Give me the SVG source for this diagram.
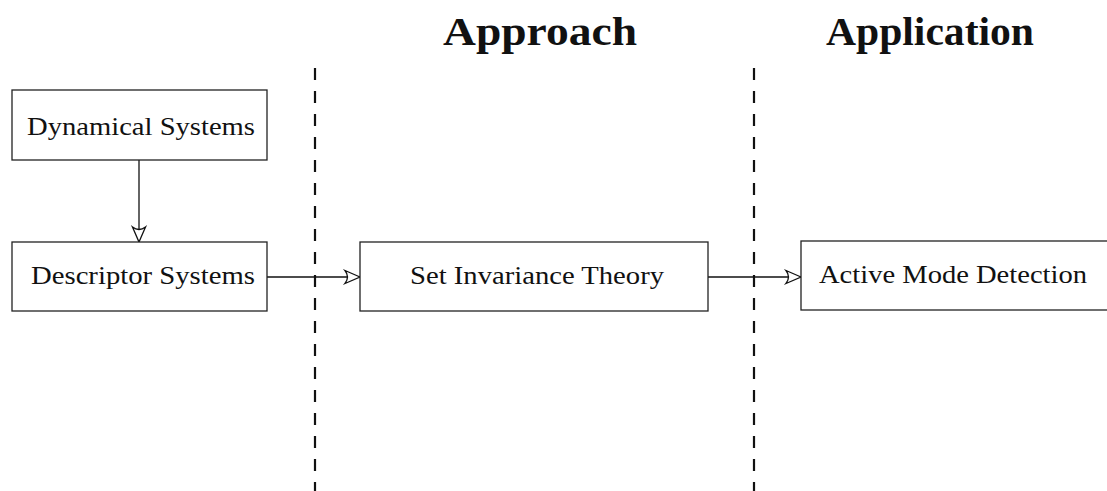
<svg xmlns="http://www.w3.org/2000/svg" width="1107" height="491" viewBox="0 0 1107 491">
  <style>
    .box { fill: #ffffff; stroke: #222222; stroke-width: 1.3; }
    .lbl { font-family: "Liberation Serif", "DejaVu Serif", serif; font-size: 25px; fill: #111111; }
    .title { font-family: "Liberation Serif", "DejaVu Serif", serif; font-size: 41px; font-weight: bold; fill: #111111; }
    .edge { fill: none; stroke: #111111; stroke-width: 1.3; }
    .divider { fill: none; stroke: #111111; stroke-width: 2.2; stroke-dasharray: 12 11; }
  </style>
  <defs>
    <!-- open stealth-style arrowhead, drawn in user units -->
    <marker id="openArrow" markerUnits="userSpaceOnUse" markerWidth="24" markerHeight="18" viewBox="-20 -9 24 18" refX="0" refY="0" orient="auto" overflow="visible">
      <path d="M0,0 L-15,-6.5 Q-10,0 -15,6.5 Z" fill="#ffffff" stroke="#111111" stroke-width="1.3" stroke-linejoin="miter"/>
    </marker>
  </defs>

  <!-- column headings -->
  <text class="title" x="443" y="45" textLength="194" lengthAdjust="spacingAndGlyphs">Approach</text>
  <text class="title" x="826" y="45" textLength="208" lengthAdjust="spacingAndGlyphs">Application</text>

  <!-- column dividers -->
  <g id="dividers">
    <line class="divider" x1="315" y1="68" x2="315" y2="491"/>
    <line class="divider" x1="754" y1="68" x2="754" y2="491"/>
  </g>

  <!-- connectors -->
  <g id="connectors">
    <line class="edge" x1="139" y1="160" x2="139" y2="242" marker-end="url(#openArrow)"/>
    <line class="edge" x1="267" y1="277" x2="360" y2="277" marker-end="url(#openArrow)"/>
    <line class="edge" x1="708" y1="277" x2="801" y2="277" marker-end="url(#openArrow)"/>
  </g>

  <g id="dynamical-systems">
    <rect class="box" x="12" y="90" width="255" height="70"/>
    <text class="lbl" x="27" y="135" textLength="228" lengthAdjust="spacingAndGlyphs">Dynamical Systems</text>
  </g>

  <g id="descriptor-systems">
    <rect class="box" x="12" y="242" width="255" height="69"/>
    <text class="lbl" x="31" y="284" textLength="224" lengthAdjust="spacingAndGlyphs">Descriptor Systems</text>
  </g>

  <g id="set-invariance-theory">
    <rect class="box" x="360" y="242" width="348" height="69"/>
    <text class="lbl" x="410" y="284" textLength="254" lengthAdjust="spacingAndGlyphs">Set Invariance Theory</text>
  </g>

  <g id="active-mode-detection">
    <rect class="box" x="801" y="241" width="320" height="69"/>
    <text class="lbl" x="819" y="283" textLength="268" lengthAdjust="spacingAndGlyphs">Active Mode Detection</text>
  </g>
</svg>
